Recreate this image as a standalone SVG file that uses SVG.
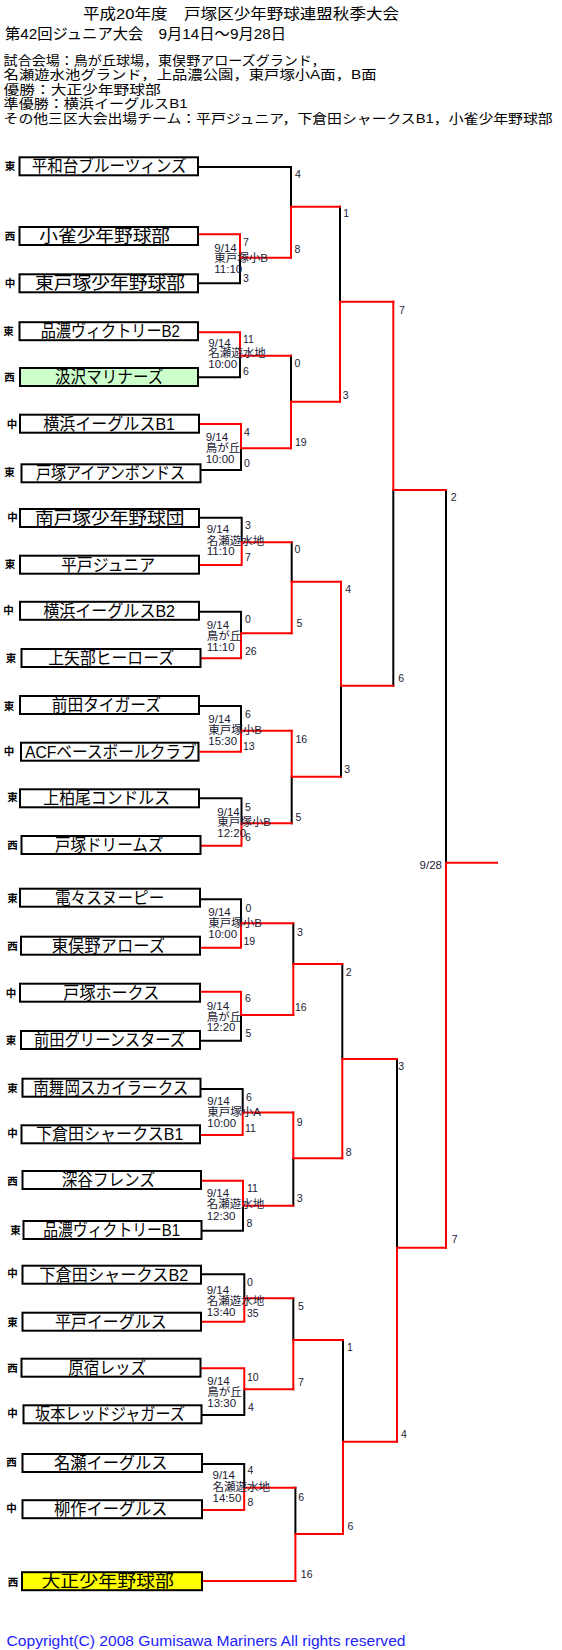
<svg xmlns="http://www.w3.org/2000/svg" width="562" height="1650" viewBox="0 0 562 1650">
<style>
text{font-family:'Liberation Sans','Noto Sans CJK JP',sans-serif;fill:#000}
.hd{font-size:15px;dominant-baseline:central}
.hs{font-size:13px;dominant-baseline:central}
.box{fill:#fff;stroke:#000;stroke-width:2}
.tn{font-size:17px;dominant-baseline:central}
.rg{font-size:10.5px;font-weight:bold;text-anchor:middle;dominant-baseline:central}
.inf{font-size:11.5px;fill:#1a1a33;dominant-baseline:central}
.sc{font-size:10.5px;fill:#1a1a33;dominant-baseline:central}
.k{fill:none;stroke:#000;stroke-width:2;stroke-linecap:square}
.r{fill:none;stroke:#f00;stroke-width:2;stroke-linecap:square}
.cp{font-size:14px;fill:#2222ff;dominant-baseline:central}
</style>
<g id="header">
<text class="hd" x="83" y="13" textLength="316" lengthAdjust="spacingAndGlyphs">平成20年度　戸塚区少年野球連盟秋季大会</text>
<text class="hd" x="5" y="33.5" textLength="281" lengthAdjust="spacingAndGlyphs">第42回ジュニア大会　9月14日～9月28日</text>
<text class="hs" x="3.6" y="60" textLength="322" lengthAdjust="spacingAndGlyphs">試合会場：鳥が丘球場，東俣野アローズグランド，</text>
<text class="hs" x="3.6" y="74.5" textLength="373" lengthAdjust="spacingAndGlyphs">名瀬遊水池グランド，上品濃公園，東戸塚小A面，B面</text>
<text class="hs" x="3.6" y="89" textLength="157" lengthAdjust="spacingAndGlyphs">優勝：大正少年野球部</text>
<text class="hs" x="3.6" y="103.5" textLength="184" lengthAdjust="spacingAndGlyphs">準優勝：横浜イーグルスB1</text>
<text class="hs" x="3.6" y="118" textLength="549" lengthAdjust="spacingAndGlyphs">その他三区大会出場チーム：平戸ジュニア，下倉田シャークスB1，小雀少年野球部</text>
</g>
<g id="connectors">
<path class="k" d="M199 167H291V206.7"/>
<path class="k" d="M199 283.3H240V257.7"/>
<path class="k" d="M199 377.3H240V355.7"/>
<path class="k" d="M201.5 470H241V448.3"/>
<path class="k" d="M200 517.7H241.7V542.3"/>
<path class="k" d="M200 611.7H241V633.3"/>
<path class="k" d="M200 706H241V730.7"/>
<path class="k" d="M200 798.3H241.5V823.3"/>
<path class="k" d="M201 899.3H241V923.3"/>
<path class="k" d="M201 1040.7H241V1015"/>
<path class="k" d="M201.5 1089H242.7V1112.5"/>
<path class="k" d="M202.5 1230.7H243V1205.7"/>
<path class="k" d="M202 1274.3H244.3V1298.3"/>
<path class="k" d="M202.5 1415H244.3V1389.3"/>
<path class="k" d="M203 1464H244.2V1487.7"/>
<path class="k" d="M291 355.7V401.7"/>
<path class="k" d="M291.7 542.3V581.7"/>
<path class="k" d="M291.7 823.3V776.7"/>
<path class="k" d="M293.3 923.3V964"/>
<path class="k" d="M293.3 1205.7V1158.3"/>
<path class="k" d="M293.3 1298.3V1340"/>
<path class="k" d="M295.4 1487.7V1534"/>
<path class="k" d="M340 206.7V301.7"/>
<path class="k" d="M341 776.7V685.7"/>
<path class="k" d="M342.3 964V1059"/>
<path class="k" d="M343 1340V1441.7"/>
<path class="k" d="M393.3 685.7V490"/>
<path class="k" d="M397 1059V1247.7"/>
<path class="k" d="M446 490V862.7"/>
<path class="r" d="M199 234.3H240V257.7H291"/>
<path class="r" d="M199 332.3H240V355.7H291"/>
<path class="r" d="M200 424H241V448.3H291"/>
<path class="r" d="M200 565H241.7V542.3H291.7"/>
<path class="r" d="M201.5 658.3H241V633.3H291.7"/>
<path class="r" d="M200.5 751.7H241V730.7H291.7"/>
<path class="r" d="M201.5 845.7H241.5V823.3H291.7"/>
<path class="r" d="M201 947.7H241V923.3H293.3"/>
<path class="r" d="M201 991.7H241V1015H293.3"/>
<path class="r" d="M201 1135H242.7V1112.5H293.3"/>
<path class="r" d="M202 1180.7H243V1205.7H293.3"/>
<path class="r" d="M202 1321.7H244.3V1298.3H293.3"/>
<path class="r" d="M201.5 1368.3H244.3V1389.3H293.3"/>
<path class="r" d="M203 1510H244.2V1487.7H295.4"/>
<path class="r" d="M203 1581H295.4"/>
<path class="r" d="M291 257.7V206.7H340"/>
<path class="r" d="M291 448.3V401.7H340"/>
<path class="r" d="M291.7 633.3V581.7H341"/>
<path class="r" d="M291.7 730.7V776.7H341"/>
<path class="r" d="M293.3 1015V964H342.3"/>
<path class="r" d="M293.3 1112.5V1158.3H342.3"/>
<path class="r" d="M293.3 1389.3V1340H343"/>
<path class="r" d="M295.4 1581V1534H343"/>
<path class="r" d="M340 401.7V301.7H393.3"/>
<path class="r" d="M341 581.7V685.7H393.3"/>
<path class="r" d="M342.3 1158.3V1059H397"/>
<path class="r" d="M343 1534V1441.7H397"/>
<path class="r" d="M393.3 301.7V490H446"/>
<path class="r" d="M397 1441.7V1247.7H446"/>
<path class="r" d="M446 1247.7V862.7H497"/>
</g>
<g id="t01"><rect class="box" x="19.5" y="157.3" width="178.5" height="18"/><text class="tn" x="31.7" y="166.8" textLength="155" lengthAdjust="spacingAndGlyphs">平和台ブルーツィンズ</text><text class="rg" x="10" y="166">東</text></g>
<g id="t02"><rect class="box" x="19.5" y="227" width="178.5" height="18"/><text class="tn" x="39.3" y="236.5" textLength="130.7" lengthAdjust="spacingAndGlyphs">小雀少年野球部</text><text class="rg" x="10" y="236">西</text></g>
<g id="t03"><rect class="box" x="19.5" y="274.3" width="178.5" height="18"/><text class="tn" x="35" y="283.8" textLength="150" lengthAdjust="spacingAndGlyphs">東戸塚少年野球部</text><text class="rg" x="10" y="282.7">中</text></g>
<g id="t04"><rect class="box" x="19.5" y="322.2" width="178.5" height="18"/><text class="tn" x="40.7" y="331.7" textLength="139.3" lengthAdjust="spacingAndGlyphs">品濃ヴィクトリーB2</text><text class="rg" x="8.5" y="331">東</text></g>
<g id="t05"><rect class="box" x="20" y="368" width="178" height="18" style="fill:#ccffcc"/><text class="tn" x="55" y="377.5" textLength="108.3" lengthAdjust="spacingAndGlyphs">汲沢マリナーズ</text><text class="rg" x="9.5" y="376.7">西</text></g>
<g id="t06"><rect class="box" x="20" y="414.7" width="179" height="18"/><text class="tn" x="43.3" y="424.2" textLength="131.7" lengthAdjust="spacingAndGlyphs">横浜イーグルスB1</text><text class="rg" x="12" y="424">中</text></g>
<g id="t07"><rect class="box" x="21.5" y="464.3" width="179" height="18"/><text class="tn" x="36" y="473.8" textLength="149" lengthAdjust="spacingAndGlyphs">戸塚アイアンボンドス</text><text class="rg" x="9.5" y="471.7">東</text></g>
<g id="t08"><rect class="box" x="20" y="509" width="179" height="18"/><text class="tn" x="35" y="518.5" textLength="149.3" lengthAdjust="spacingAndGlyphs">南戸塚少年野球団</text><text class="rg" x="12.5" y="517.3">中</text></g>
<g id="t09"><rect class="box" x="20" y="555.7" width="179" height="18"/><text class="tn" x="61" y="565.2" textLength="94" lengthAdjust="spacingAndGlyphs">平戸ジュニア</text><text class="rg" x="10" y="564">東</text></g>
<g id="t10"><rect class="box" x="20" y="601.8" width="179" height="18"/><text class="tn" x="43.3" y="611.3" textLength="131.7" lengthAdjust="spacingAndGlyphs">横浜イーグルスB2</text><text class="rg" x="8.5" y="610">中</text></g>
<g id="t11"><rect class="box" x="21.5" y="649" width="179" height="18"/><text class="tn" x="48.3" y="658.5" textLength="125.7" lengthAdjust="spacingAndGlyphs">上矢部ヒーローズ</text><text class="rg" x="11" y="657.7">東</text></g>
<g id="t12"><rect class="box" x="20" y="696" width="179" height="18"/><text class="tn" x="51.7" y="705.5" textLength="109.3" lengthAdjust="spacingAndGlyphs">前田タイガーズ</text><text class="rg" x="9" y="706">東</text></g>
<g id="t13"><rect class="box" x="21" y="742.7" width="177.5" height="18"/><text class="tn" x="25" y="752.2" textLength="171.7" lengthAdjust="spacingAndGlyphs">ACFベースボールクラブ</text><text class="rg" x="9" y="751">中</text></g>
<g id="t14"><rect class="box" x="20" y="789.3" width="179" height="18"/><text class="tn" x="43.3" y="798.8" textLength="126.7" lengthAdjust="spacingAndGlyphs">上柏尾コンドルス</text><text class="rg" x="12.5" y="797.3">東</text></g>
<g id="t15"><rect class="box" x="21.5" y="836" width="179" height="18"/><text class="tn" x="55" y="845.5" textLength="108.3" lengthAdjust="spacingAndGlyphs">戸塚ドリームズ</text><text class="rg" x="12.5" y="845">西</text></g>
<g id="t16"><rect class="box" x="20" y="888.7" width="180" height="18"/><text class="tn" x="55" y="898.2" textLength="109.3" lengthAdjust="spacingAndGlyphs">電々スヌーピー</text><text class="rg" x="12.5" y="898.3">東</text></g>
<g id="t17"><rect class="box" x="21" y="936.7" width="179" height="18"/><text class="tn" x="51.7" y="946.2" textLength="113.3" lengthAdjust="spacingAndGlyphs">東俣野アローズ</text><text class="rg" x="12.5" y="946">西</text></g>
<g id="t18"><rect class="box" x="20" y="983.7" width="180" height="18"/><text class="tn" x="63.3" y="993.2" textLength="96" lengthAdjust="spacingAndGlyphs">戸塚ホークス</text><text class="rg" x="11" y="993.3">中</text></g>
<g id="t19"><rect class="box" x="21" y="1031" width="179" height="18"/><text class="tn" x="34" y="1040.5" textLength="151" lengthAdjust="spacingAndGlyphs">前田グリーンスターズ</text><text class="rg" x="11" y="1040">東</text></g>
<g id="t20"><rect class="box" x="22.5" y="1078.7" width="178" height="18"/><text class="tn" x="33.3" y="1088.2" textLength="155" lengthAdjust="spacingAndGlyphs">南舞岡スカイラークス</text><text class="rg" x="12.5" y="1088.3">東</text></g>
<g id="t21"><rect class="box" x="21.5" y="1125.3" width="178.5" height="18"/><text class="tn" x="36" y="1134.8" textLength="147.3" lengthAdjust="spacingAndGlyphs">下倉田シャークスB1</text><text class="rg" x="12.5" y="1132.7">中</text></g>
<g id="t22"><rect class="box" x="22.5" y="1171" width="178.5" height="18"/><text class="tn" x="61.7" y="1180.5" textLength="93.3" lengthAdjust="spacingAndGlyphs">深谷フレンズ</text><text class="rg" x="12.5" y="1180.7">西</text></g>
<g id="t23"><rect class="box" x="23.5" y="1221" width="178" height="18"/><text class="tn" x="43.3" y="1230.5" textLength="136.7" lengthAdjust="spacingAndGlyphs">品濃ヴィクトリーB1</text><text class="rg" x="15.5" y="1230">東</text></g>
<g id="t24"><rect class="box" x="22.5" y="1265.7" width="178.5" height="18"/><text class="tn" x="39.3" y="1275.2" textLength="149" lengthAdjust="spacingAndGlyphs">下倉田シャークスB2</text><text class="rg" x="12.5" y="1273.3">中</text></g>
<g id="t25"><rect class="box" x="22.5" y="1312.7" width="178.5" height="18"/><text class="tn" x="55" y="1322.2" textLength="111.7" lengthAdjust="spacingAndGlyphs">平戸イーグルス</text><text class="rg" x="12.5" y="1321.7">東</text></g>
<g id="t26"><rect class="box" x="21.5" y="1358.7" width="179" height="18"/><text class="tn" x="68.3" y="1368.2" textLength="77.7" lengthAdjust="spacingAndGlyphs">原宿レッズ</text><text class="rg" x="12.5" y="1368.3">西</text></g>
<g id="t27"><rect class="box" x="23.5" y="1405.3" width="178" height="18"/><text class="tn" x="35" y="1414.8" textLength="150" lengthAdjust="spacingAndGlyphs">坂本レッドジャガーズ</text><text class="rg" x="12.5" y="1413.3">中</text></g>
<g id="t28"><rect class="box" x="22.5" y="1454" width="179.5" height="18"/><text class="tn" x="54" y="1463.5" textLength="113.5" lengthAdjust="spacingAndGlyphs">名瀬イーグルス</text><text class="rg" x="11.5" y="1462.3">西</text></g>
<g id="t29"><rect class="box" x="22.5" y="1500.2" width="179.5" height="18"/><text class="tn" x="54" y="1509.7" textLength="113.5" lengthAdjust="spacingAndGlyphs">柳作イーグルス</text><text class="rg" x="11.5" y="1507.7">中</text></g>
<g id="t30"><rect class="box" x="22" y="1572.2" width="180" height="18" style="fill:#ffff00"/><text class="tn" x="41.4" y="1581.7" textLength="132.6" lengthAdjust="spacingAndGlyphs">大正少年野球部</text><text class="rg" x="13" y="1581.7">西</text></g>
<g id="match-info">
<text class="inf" x="214.3" y="247.7">9/14</text><text class="inf" x="214.3" y="258.3">東戸塚小B</text><text class="inf" x="214.3" y="269">11:10</text>
<text class="inf" x="208.3" y="342.7">9/14</text><text class="inf" x="208.3" y="353.3">名瀬遊水地</text><text class="inf" x="208.3" y="364.3">10:00</text>
<text class="inf" x="205.7" y="437.3">9/14</text><text class="inf" x="205.7" y="448">鳥が丘</text><text class="inf" x="205.7" y="459.3">10:00</text>
<text class="inf" x="206.7" y="529.3">9/14</text><text class="inf" x="206.7" y="540.7">名瀬遊水地</text><text class="inf" x="206.7" y="551.3">11:10</text>
<text class="inf" x="206.7" y="625.3">9/14</text><text class="inf" x="206.7" y="636">鳥が丘</text><text class="inf" x="206.7" y="647.3">11:10</text>
<text class="inf" x="208.3" y="719.3">9/14</text><text class="inf" x="208.3" y="730">東戸塚小B</text><text class="inf" x="208.3" y="741">15:30</text>
<text class="inf" x="217.3" y="811.7">9/14</text><text class="inf" x="217.3" y="822.3">東戸塚小B</text><text class="inf" x="217.3" y="833.3">12:20</text>
<text class="inf" x="208.3" y="912.3">9/14</text><text class="inf" x="208.3" y="923.3">東戸塚小B</text><text class="inf" x="208.3" y="934">10:00</text>
<text class="inf" x="206.7" y="1005.7">9/14</text><text class="inf" x="206.7" y="1016.7">鳥が丘</text><text class="inf" x="206.7" y="1027.3">12:20</text>
<text class="inf" x="207.3" y="1101">9/14</text><text class="inf" x="207.3" y="1112.3">東戸塚小A</text><text class="inf" x="207.3" y="1123.3">10:00</text>
<text class="inf" x="206.7" y="1193.3">9/14</text><text class="inf" x="206.7" y="1204.3">名瀬遊水地</text><text class="inf" x="206.7" y="1215.7">12:30</text>
<text class="inf" x="206.7" y="1290">9/14</text><text class="inf" x="206.7" y="1300.7">名瀬遊水地</text><text class="inf" x="206.7" y="1311.7">13:40</text>
<text class="inf" x="207.3" y="1381">9/14</text><text class="inf" x="207.3" y="1392">鳥が丘</text><text class="inf" x="207.3" y="1403.3">13:30</text>
<text class="inf" x="212.5" y="1475">9/14</text><text class="inf" x="212.5" y="1487.3">名瀬遊水地</text><text class="inf" x="212.5" y="1497.7">14:50</text>
<text class="inf" x="442" y="865" text-anchor="end">9/28</text>
</g>
<g id="scores">
<text class="sc" x="243" y="241.7">7</text><text class="sc" x="243" y="277.7">3</text>
<text class="sc" x="243" y="339.3">11</text><text class="sc" x="243" y="370.7">6</text>
<text class="sc" x="244" y="431.7">4</text><text class="sc" x="244" y="463.3">0</text>
<text class="sc" x="245" y="525">3</text><text class="sc" x="245" y="556.7">7</text>
<text class="sc" x="245" y="619">0</text><text class="sc" x="245" y="650.7">26</text>
<text class="sc" x="245" y="714">6</text><text class="sc" x="243" y="745.7">13</text>
<text class="sc" x="245" y="806.7">5</text><text class="sc" x="245" y="836.7">6</text>
<text class="sc" x="245.5" y="908.3">0</text><text class="sc" x="243.5" y="940.7">19</text>
<text class="sc" x="245" y="997.7">6</text><text class="sc" x="245.5" y="1032.7">5</text>
<text class="sc" x="246" y="1096.7">6</text><text class="sc" x="245" y="1128.3">11</text>
<text class="sc" x="247" y="1187.7">11</text><text class="sc" x="246.5" y="1222.7">8</text>
<text class="sc" x="247" y="1282.3">0</text><text class="sc" x="247" y="1313.3">35</text>
<text class="sc" x="247" y="1377.3">10</text><text class="sc" x="248" y="1407.3">4</text>
<text class="sc" x="247.5" y="1470">4</text><text class="sc" x="247.5" y="1501.7">8</text>
<text class="sc" x="295" y="174">4</text><text class="sc" x="294.5" y="249.3">8</text>
<text class="sc" x="294.5" y="363.3">0</text><text class="sc" x="295" y="441.7">19</text>
<text class="sc" x="294.5" y="549.3">0</text><text class="sc" x="296.5" y="623.3">5</text>
<text class="sc" x="295.5" y="739.3">16</text><text class="sc" x="295.5" y="816.7">5</text>
<text class="sc" x="297" y="932.3">3</text><text class="sc" x="295" y="1007.3">16</text>
<text class="sc" x="296.7" y="1121.7">9</text><text class="sc" x="296.7" y="1198.3">3</text>
<text class="sc" x="298" y="1306">5</text><text class="sc" x="298" y="1381.7">7</text>
<text class="sc" x="298.3" y="1496.7">6</text><text class="sc" x="300.8" y="1574">16</text>
<text class="sc" x="343.3" y="213.3">1</text><text class="sc" x="342.7" y="395">3</text>
<text class="sc" x="345.3" y="589.3">4</text><text class="sc" x="344.3" y="769.3">3</text>
<text class="sc" x="345.7" y="971.7">2</text><text class="sc" x="345.7" y="1151.7">8</text>
<text class="sc" x="347" y="1347">1</text><text class="sc" x="347.6" y="1525.7">6</text>
<text class="sc" x="399" y="310">7</text><text class="sc" x="398.3" y="677.7">6</text>
<text class="sc" x="398.3" y="1065.7">3</text><text class="sc" x="401" y="1434">4</text>
<text class="sc" x="450.7" y="497.3">2</text><text class="sc" x="451.7" y="1239">7</text>
</g>
<text class="cp" x="6.5" y="1641" textLength="399" lengthAdjust="spacingAndGlyphs">Copyright(C) 2008 Gumisawa Mariners All rights reserved</text>
</svg>
